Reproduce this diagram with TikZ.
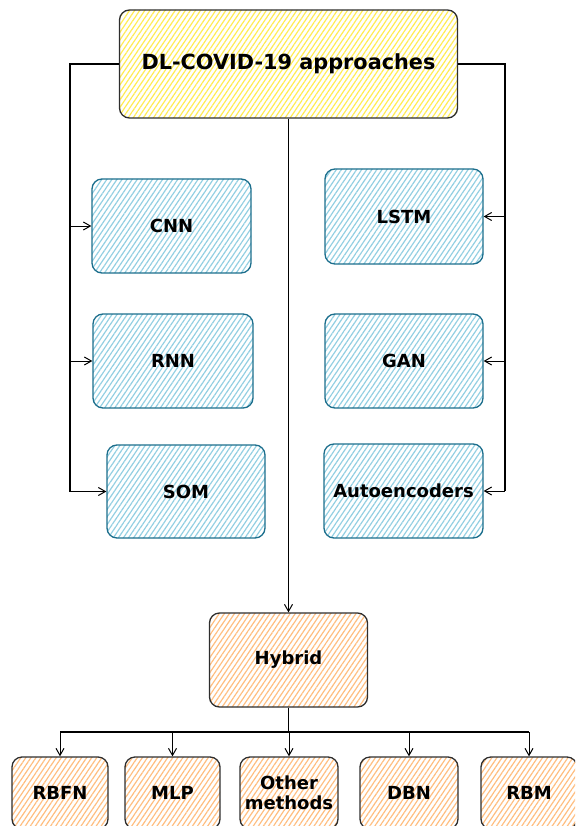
\documentclass[tikz,border=0pt]{standalone}
\usepackage{fontspec}
\setmainfont{DejaVu Sans}
\usepackage{tikz}
\usetikzlibrary{arrows.meta,patterns.meta}

\definecolor{hatchyellow}{HTML}{FFEB55}
\definecolor{hatchblue}{HTML}{93CFE2}
\definecolor{hatchorange}{HTML}{FFBE80}
\definecolor{edgeteal}{HTML}{1C6E8C}
\definecolor{edgedark}{HTML}{2E2E2E}

\begin{document}
\begin{tikzpicture}[x=1pt, y=-1pt,
    every node/.style={font=\bfseries\fontsize{18}{19.5}\selectfont, align=center},
    hatch/.style={pattern={Lines[angle=56,distance=4.2pt,line width=1.2pt]}},
    box/.style={rounded corners=10pt, line width=1.3pt, inner sep=0pt,
      minimum width=158pt, minimum height=94pt},
    topbox/.style={box, draw=edgedark, hatch, pattern color=hatchyellow,
      minimum width=338pt, minimum height=108pt,
      font=\bfseries\fontsize{20.8}{24}\selectfont},
    bluebox/.style={box, draw=edgeteal, hatch, pattern color=hatchblue},
    orangebox/.style={box, draw=edgedark, hatch, pattern color=hatchorange},
    leafbox/.style={orangebox, minimum width=96pt, minimum height=72pt},
    trunk/.style={line width=1.8pt},
    arr/.style={-{Straight Barb[length=7pt,width=8pt]}, line width=1pt}]
  \useasboundingbox (0,0) rectangle (575,826);
  \clip (0,0) rectangle (575,826);

  % root
  \node[topbox] (top) at (288.5,64) {DL-COVID-19 approaches};

  % left column
  \node[bluebox, minimum width=159pt] (cnn) at (171.5,226) {CNN};
  \node[bluebox, minimum width=160pt] (rnn) at (173,361) {RNN};
  \node[bluebox, minimum height=93pt] (som) at (186,491.5) {SOM};

  % right column
  \node[bluebox, minimum height=95pt] (lstm) at (404,216.5) {LSTM};
  \node[bluebox] (gan) at (404,361) {GAN};
  \node[bluebox, minimum width=159pt] (auto) at (403.5,491) {Autoencoders};

  % hybrid and its leaves
  \node[orangebox] (hybrid) at (288.5,660) {Hybrid};
  \node[leafbox] (rbfn) at (60,793) {RBFN};
  \node[leafbox, minimum width=95pt] (mlp) at (172.5,793) {MLP};
  \node[leafbox, minimum width=98pt] (other) at (289,793) {Other\\methods};
  \node[leafbox, minimum width=98pt] (dbn) at (409,793) {DBN};
  \node[leafbox] (rbm) at (529,793) {RBM};

  \coordinate (lt) at (70,0);
  \coordinate (rt) at (505,0);
  \coordinate (bus) at (288.5,732);

  \draw[trunk] (top.west) -- (top.west -| lt) -- (som.west -| lt);
  \foreach \n in {cnn,rnn,som}
    \draw[arr] (\n.west -| lt) -- (\n.west);
  \draw[trunk] (top.east) -- (top.east -| rt) -- (auto.east -| rt);
  \foreach \n in {lstm,gan,auto}
    \draw[arr] (\n.east -| rt) -- (\n.east);

  \draw[arr] (top.south) -- (hybrid.north);
  \draw[trunk] (hybrid.south) -- (bus);
  \draw[trunk] (bus -| rbfn.north) -- (bus -| rbm.north);
  \foreach \n in {rbfn,mlp,other,dbn,rbm}
    \draw[arr] (bus -| \n.north) -- (\n.north);
\end{tikzpicture}
\end{document}
